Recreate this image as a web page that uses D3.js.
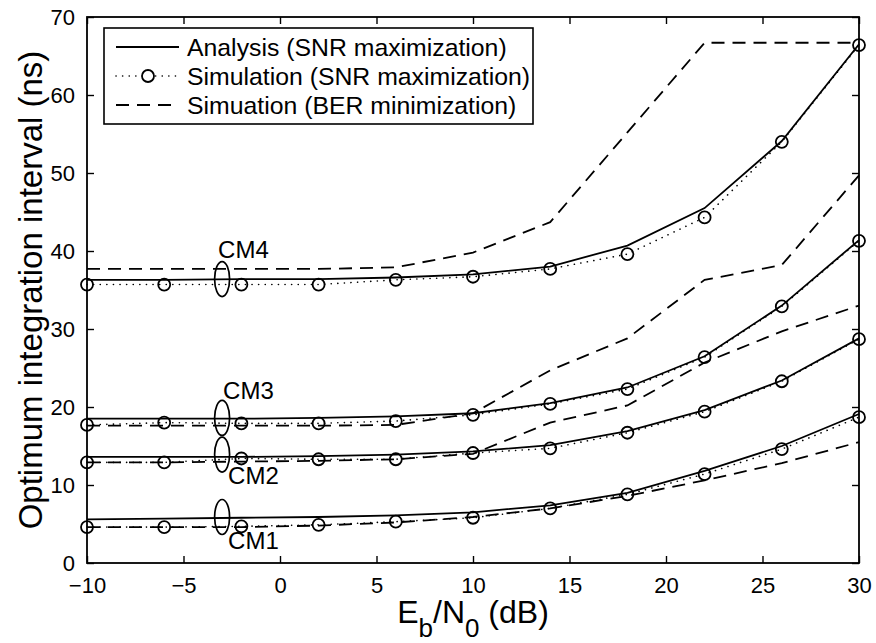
<!DOCTYPE html>
<html>
<head>
<meta charset="utf-8">
<script src="https://cdn.jsdelivr.net/npm/d3@7"></script>
<style>
  html, body { margin: 0; padding: 0; background: #fff; }
  svg { display: block; font-family: "Liberation Sans", Arial, Helvetica, sans-serif; }
</style>
</head>
<body>
<svg id="chart" width="876" height="643"></svg>
<script>
// ---- Data ----
const ebn0 = [-10, -6, -2, 2, 6, 10, 14, 18, 22, 26, 30];
const xTicks = [-10, -5, 0, 5, 10, 15, 20, 25, 30];
const yTicks = [0, 10, 20, 30, 40, 50, 60, 70];

const channels = ["CM1", "CM2", "CM3", "CM4"];

// Analysis (SNR maximization)
const analysisCM1 = [5.6, 5.7, 5.8, 5.9, 6.1, 6.5, 7.4, 9.0, 11.8, 15.0, 19.1];
const analysisCM2 = [13.6, 13.6, 13.6, 13.7, 13.9, 14.3, 15.1, 16.9, 19.6, 23.4, 28.8];
const analysisCM3 = [18.5, 18.5, 18.5, 18.6, 18.8, 19.2, 20.5, 22.5, 26.5, 33.0, 41.4];
const analysisCM4 = [36.3, 36.3, 36.4, 36.4, 36.6, 37.0, 38.0, 40.7, 45.5, 54.1, 66.5];

// Simulation (SNR maximization)
const simSnrCM1 = [4.6, 4.6, 4.7, 4.9, 5.3, 5.8, 7.0, 8.8, 11.4, 14.6, 18.7];
const simSnrCM2 = [12.9, 12.9, 13.4, 13.3, 13.3, 14.1, 14.7, 16.7, 19.4, 23.3, 28.7];
const simSnrCM3 = [17.7, 18.0, 17.9, 17.9, 18.2, 19.0, 20.4, 22.3, 26.4, 32.9, 41.3];
const simSnrCM4 = [35.7, 35.7, 35.7, 35.7, 36.3, 36.7, 37.7, 39.6, 44.3, 54.0, 66.4];

// Simulation (BER minimization)
const simBerCM1 = [4.6, 4.6, 4.6, 4.8, 5.2, 5.9, 7.0, 8.6, 10.6, 12.8, 15.5];
const simBerCM2 = [12.9, 12.9, 13.0, 13.1, 13.3, 14.0, 18.0, 20.2, 25.7, 29.7, 33.0];
const simBerCM3 = [17.6, 17.6, 17.6, 17.6, 17.7, 19.2, 24.7, 28.8, 36.3, 38.2, 49.7];
const simBerCM4 = [37.7, 37.7, 37.7, 37.7, 37.9, 39.8, 43.7, 55.2, 66.7, 66.7, 66.7];

const legendLabels = [
  "Analysis (SNR maximization)",
  "Simulation (SNR maximization)",
  "Simuation (BER minimization)"
];

// channel group annotations: ellipse centre (data units) and label
const groupX = [-3, -3, -3, -3];
const groupY = [5.9, 13.9, 18.6, 36.4];

// ---- Layout ----
const W = 876, H = 643;
const margin = { left: 87, right: 17, top: 17, bottom: 80 };
const iw = W - margin.left - margin.right;
const ih = H - margin.top - margin.bottom;

const svg = d3.select("#chart");
const g = svg.append("g").attr("transform", `translate(${margin.left},${margin.top})`);

const x = d3.scaleLinear().domain([-10, 30]).range([0, iw]);
const y = d3.scaleLinear().domain([0, 70]).range([ih, 0]);

const line = d3.line().x((d, i) => x(ebn0[i])).y(d => y(d));

const analysis = [analysisCM1, analysisCM2, analysisCM3, analysisCM4];
const simSnr = [simSnrCM1, simSnrCM2, simSnrCM3, simSnrCM4];
const simBer = [simBerCM1, simBerCM2, simBerCM3, simBerCM4];

const SW = 1.8;

// BER dashed
simBer.forEach(s => {
  g.append("path").attr("d", line(s)).attr("fill", "none")
    .attr("stroke", "#000").attr("stroke-width", SW)
    .attr("stroke-dasharray", "13,8");
});
// Simulation SNR dotted
simSnr.forEach(s => {
  g.append("path").attr("d", line(s)).attr("fill", "none")
    .attr("stroke", "#000").attr("stroke-width", 1.6)
    .attr("stroke-linecap", "round")
    .attr("stroke-dasharray", "0.1,6.5");
});
// Analysis solid
analysis.forEach(s => {
  g.append("path").attr("d", line(s)).attr("fill", "none")
    .attr("stroke", "#000").attr("stroke-width", SW);
});
// Simulation markers
simSnr.forEach(s => {
  g.selectAll(null).data(s).enter().append("circle")
    .attr("cx", (d, i) => x(ebn0[i])).attr("cy", d => y(d))
    .attr("r", 6).attr("fill", "none").attr("stroke", "#000").attr("stroke-width", 1.8);
});

// Group ellipses and labels
const labelOffsets = [
  { dx: 6, dy: 32 },   // CM1 below right
  { dx: 6, dy: 29 },   // CM2 below right
  { dx: 1, dy: -19 },  // CM3 above
  { dx: -4, dy: -21 }  // CM4 above
];
channels.forEach((c, k) => {
  const cx = x(groupX[k]), cy = y(groupY[k]);
  g.append("ellipse").attr("cx", cx).attr("cy", cy)
    .attr("rx", 7.5).attr("ry", 17.5)
    .attr("fill", "none").attr("stroke", "#000").attr("stroke-width", 1.7);
  g.append("text").attr("x", cx + labelOffsets[k].dx).attr("y", cy + labelOffsets[k].dy)
    .attr("font-size", 24).attr("fill", "#000").text(c);
});

// Frame
g.append("rect").attr("x", 0).attr("y", 0).attr("width", iw).attr("height", ih)
  .attr("fill", "none").attr("stroke", "#000").attr("stroke-width", 1.8);

// Axes (ticks inward, MATLAB style)
const TL = 7;
const xAxisB = d3.axisBottom(x).tickValues(xTicks).tickSizeInner(-TL).tickSizeOuter(0).tickPadding(14)
  .tickFormat(d3.format("d"));
const xAxisT = d3.axisTop(x).tickValues(xTicks).tickSizeInner(-TL).tickSizeOuter(0).tickFormat("");
const yAxisL = d3.axisLeft(y).tickValues(yTicks).tickSizeInner(-TL).tickSizeOuter(0).tickPadding(12);
const yAxisR = d3.axisRight(y).tickValues(yTicks).tickSizeInner(-TL).tickSizeOuter(0).tickFormat("");

function styleAxis(sel) {
  sel.select(".domain").remove();
  sel.selectAll(".tick line").attr("stroke", "#000").attr("stroke-width", 1.4);
  sel.selectAll(".tick text").attr("fill", "#000").attr("font-size", 22)
    .attr("font-family", "Liberation Sans, Arial, sans-serif");
}
g.append("g").attr("transform", `translate(0,${ih})`).call(xAxisB).call(styleAxis);
g.append("g").call(xAxisT).call(styleAxis);
g.append("g").call(yAxisL).call(styleAxis);
g.append("g").attr("transform", `translate(${iw},0)`).call(yAxisR).call(styleAxis);

// Axis labels
const xl = svg.append("text").attr("x", margin.left + iw / 2).attr("y", 623)
  .attr("text-anchor", "middle").attr("font-size", 32).attr("fill", "#000");
xl.append("tspan").text("E");
xl.append("tspan").attr("dy", 14).attr("font-size", 26).text("b");
xl.append("tspan").attr("dy", -14).text("/N");
xl.append("tspan").attr("dy", 14).attr("font-size", 26).text("0");
xl.append("tspan").attr("dy", -14).text(" (dB)");

svg.append("text")
  .attr("transform", `translate(42,${margin.top + ih / 2}) rotate(-90)`)
  .attr("text-anchor", "middle").attr("font-size", 33).attr("fill", "#000")
  .text("Optimum integration interval (ns)");

// Legend
const lg = svg.append("g");
lg.append("rect").attr("x", 104).attr("y", 28).attr("width", 429).attr("height", 96)
  .attr("fill", "#fff").attr("stroke", "#000").attr("stroke-width", 1.6);
const rowY = [47, 76, 105];
const styles = [
  { dash: null, w: SW, cap: "butt" },
  { dash: "0.1,6.5", w: 1.6, cap: "round" },
  { dash: "13,8", w: SW, cap: "butt" }
];
legendLabels.forEach((t, i) => {
  const l = lg.append("line").attr("x1", 116).attr("x2", 179).attr("y1", rowY[i]).attr("y2", rowY[i])
    .attr("stroke", "#000").attr("stroke-width", styles[i].w).attr("stroke-linecap", styles[i].cap);
  if (styles[i].dash) l.attr("stroke-dasharray", styles[i].dash);
  if (i === 1) {
    lg.append("circle").attr("cx", 148).attr("cy", rowY[i]).attr("r", 6)
      .attr("fill", "#fff").attr("stroke", "#000").attr("stroke-width", 1.8);
  }
  lg.append("text").attr("x", 187).attr("y", rowY[i]).attr("dy", "0.36em")
    .attr("font-size", 24.8).attr("fill", "#000").text(t);
});
</script>
</body>
</html>
